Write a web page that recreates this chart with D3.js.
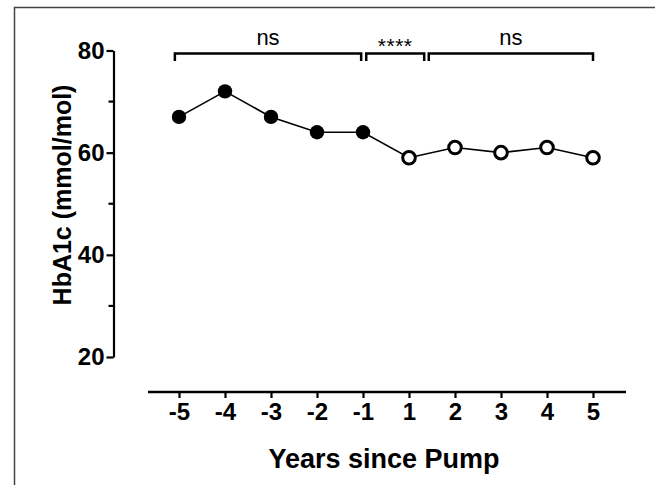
<!DOCTYPE html>
<html>
<head>
<meta charset="utf-8">
<script src="https://cdn.jsdelivr.net/npm/d3@7"></script>
<style>
  html, body { margin: 0; padding: 0; background: #fff; }
  svg { display: block; font-family: 'Liberation Sans', Arial, sans-serif; }
</style>
</head>
<body>
<svg id="chart" width="655" height="485"></svg>
<script>
// ── DATA ──────────────────────────────────────────────────────────────────────

const YEARS      = ['-5', '-4', '-3', '-2', '-1', '1', '2', '3', '4', '5'];
const PRE_YEARS  = ['-5', '-4', '-3', '-2', '-1'];
const PRE_HBA1C  = [67, 72, 67, 64, 64];
const POST_YEARS = ['1', '2', '3', '4', '5'];
const POST_HBA1C = [59, 61, 60, 61, 59];

const Y_TICKS       = [20, 40, 60, 80];
const Y_MINOR_TICKS = [30, 50, 70];

// significance brackets, ends given as positions along the year index
const BRACKET_START = [-0.09, 4.07, 5.43];
const BRACKET_END   = [3.96, 5.33, 9.0];
const BRACKET_LABEL = ['ns', '****', 'ns'];

// ── SETUP ─────────────────────────────────────────────────────────────────────

const svg = d3.select('#chart');
const W = 655, H = 485;

const x = d3.scalePoint().domain(YEARS).range([179, 593]);
const xIdx = d3.scaleLinear().domain([0, YEARS.length - 1]).range(x.range());
const y = d3.scaleLinear().domain([20, 80]).range([357, 50.5]);

// frame (cropped border of the original figure)
svg.append('path')
  .attr('d', `M14.5,${H} V7.5 H${W}`)
  .attr('fill', 'none')
  .attr('stroke', '#444')
  .attr('stroke-width', 1.5);

// ── AXES ──────────────────────────────────────────────────────────────────────

const yAxis = svg.append('g')
  .attr('transform', 'translate(113.5,0)')
  .call(d3.axisLeft(y).tickValues(Y_TICKS).tickSize(7).tickSizeOuter(0).tickPadding(2).tickFormat(d3.format('d')));

yAxis.select('.domain').attr('stroke-width', 2.2);
yAxis.selectAll('.tick line').attr('stroke-width', 2.2);
yAxis.selectAll('.tick text')
  .attr('font-size', 24)
  .attr('font-weight', 'bold')
  .attr('fill', '#000');

svg.append('g')
  .attr('transform', 'translate(113.5,0)')
  .selectAll('line')
  .data(Y_MINOR_TICKS)
  .join('line')
  .attr('x1', -5).attr('x2', 0)
  .attr('y1', d => y(d)).attr('y2', d => y(d))
  .attr('stroke', '#000')
  .attr('stroke-width', 2.2);

const xAxis = svg.append('g')
  .attr('transform', 'translate(0,392)')
  .call(d3.axisBottom(x).tickSize(6).tickSizeOuter(0).tickPadding(5));

xAxis.select('.domain')
  .attr('d', 'M148,0H626')
  .attr('stroke-width', 2.5);
xAxis.selectAll('.tick line').attr('stroke-width', 2.2);
xAxis.selectAll('.tick text')
  .attr('font-size', 24)
  .attr('font-weight', 'bold')
  .attr('fill', '#000');

// axis titles
svg.append('text')
  .attr('transform', 'translate(71,195) rotate(-90)')
  .attr('text-anchor', 'middle')
  .attr('font-size', 25)
  .attr('font-weight', 'bold')
  .text('HbA1c (mmol/mol)');

svg.append('text')
  .attr('x', 384)
  .attr('y', 468)
  .attr('text-anchor', 'middle')
  .attr('font-size', 27)
  .attr('font-weight', 'bold')
  .text('Years since Pump');

// ── SERIES ────────────────────────────────────────────────────────────────────

const allPoints = PRE_YEARS.map((yr, i) => ({ yr, v: PRE_HBA1C[i], pre: true }))
  .concat(POST_YEARS.map((yr, i) => ({ yr, v: POST_HBA1C[i], pre: false })));

svg.append('path')
  .datum(allPoints)
  .attr('fill', 'none')
  .attr('stroke', '#000')
  .attr('stroke-width', 1.6)
  .attr('d', d3.line().x(d => x(d.yr)).y(d => y(d.v)));

svg.append('g')
  .selectAll('circle')
  .data(allPoints)
  .join('circle')
  .attr('cx', d => x(d.yr))
  .attr('cy', d => y(d.v))
  .attr('r', d => d.pre ? 7.2 : 6.3)
  .attr('fill', d => d.pre ? '#000' : '#fff')
  .attr('stroke', '#000')
  .attr('stroke-width', d => d.pre ? 0 : 3);

// ── BRACKETS ──────────────────────────────────────────────────────────────────

const brTop = 53.5, brBot = 61;
const brackets = svg.append('g');

BRACKET_LABEL.forEach((label, i) => {
  const x0 = xIdx(BRACKET_START[i]);
  const x1 = xIdx(BRACKET_END[i]);

  brackets.append('path')
    .attr('d', `M${x0},${brBot} V${brTop} H${x1} V${brBot}`)
    .attr('fill', 'none')
    .attr('stroke', '#000')
    .attr('stroke-width', 2.5);

  const isStars = label.startsWith('*');
  brackets.append('text')
    .attr('x', (x0 + x1) / 2)
    .attr('y', isStars ? 53 : 45)
    .attr('text-anchor', 'middle')
    .attr('font-size', isStars ? 21 : 22)
    .attr('letter-spacing', isStars ? 0.5 : 0)
    .text(label);
});
</script>
</body>
</html>
